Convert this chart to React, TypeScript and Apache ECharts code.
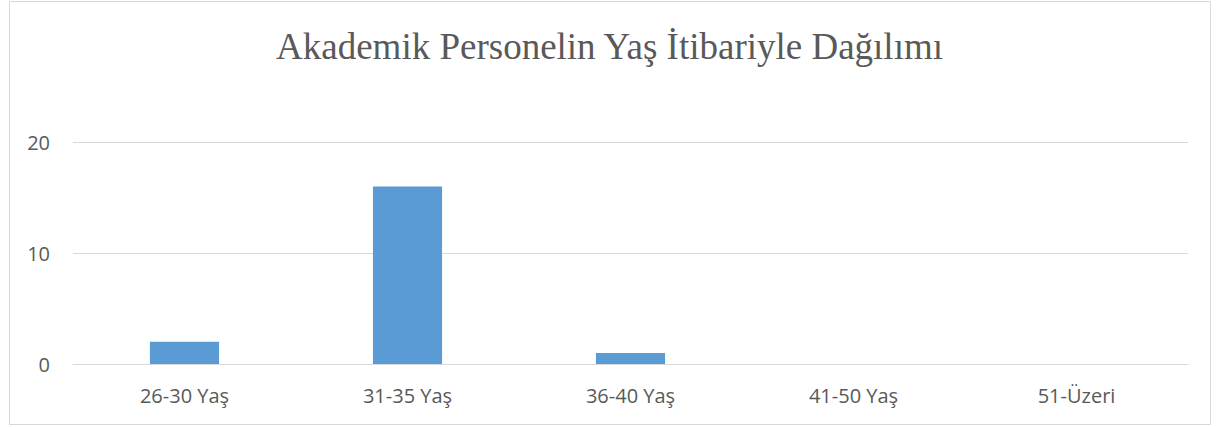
import React, { useEffect, useRef } from "react";
import * as echarts from "echarts";

const categories = ["26-30 Yaş", "31-35 Yaş", "36-40 Yaş", "41-50 Yaş", "51-Üzeri"];
const values = [2, 16, 1, 0, 0];
const titleText = "Akademik Personelin Yaş İtibariyle Dağılımı";

export default function App() {
  const ref = useRef<HTMLDivElement>(null);
  useEffect(() => {
    const chart = echarts.init(ref.current!, null, { renderer: "svg" });
    chart.setOption({
      animation: false,
      backgroundColor: "#ffffff",
      title: {
        text: titleText,
        left: "center",
        top: 23,
        textStyle: {
          fontFamily: "'Liberation Serif', 'Times New Roman', serif",
          fontSize: 37,
          fontWeight: "normal",
          color: "#595959",
        },
      },
      graphic: [
        {
          type: "rect",
          shape: { x: 9.5, y: 1.5, width: 1201, height: 423 },
          style: { fill: "none", stroke: "#d9d9d9", lineWidth: 1 },
          silent: true,
        },
      ],
      grid: { left: 73, right: 31, top: 142, bottom: 63, containLabel: false },
      xAxis: {
        type: "category",
        data: categories,
        axisLine: { show: true, lineStyle: { color: "#d9d9d9", width: 1 } },
        axisTick: { show: false },
        axisLabel: {
          color: "#595959",
          fontSize: 20,
          fontFamily: "'Open Sans', 'Noto Sans', sans-serif",
          margin: 21,
        },
      },
      yAxis: {
        type: "value",
        min: 0,
        max: 20,
        interval: 10,
        axisLine: { show: false },
        axisTick: { show: false },
        splitLine: { lineStyle: { color: "#d9d9d9", width: 1 } },
        axisLabel: {
          color: "#595959",
          fontSize: 20,
          fontFamily: "'Open Sans', 'Noto Sans', sans-serif",
          margin: 23,
        },
      },
      series: [
        {
          type: "bar",
          data: values,
          barWidth: "31%",
          itemStyle: { color: "#5b9bd5" },
        },
      ],
    });
    return () => chart.dispose();
  }, []);
  return (
    <div
      ref={ref}
      style={{ position: "fixed", left: 0, top: 0, width: 1219, height: 427 }}
    />
  );
}
